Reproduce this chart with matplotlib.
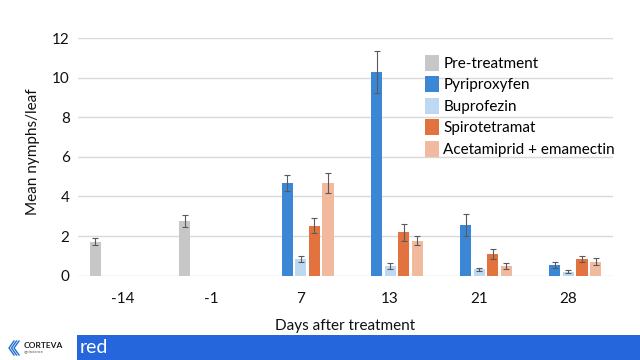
import matplotlib
matplotlib.use("Agg")
import matplotlib.pyplot as plt
from matplotlib.patches import Rectangle
import numpy as np

plt.rcParams['font.family'] = ['Lato', 'DejaVu Sans']

categories = ["-14", "-1", "7", "13", "21", "28"]
series = ["Pre-treatment", "Pyriproxyfen", "Buprofezin", "Spirotetramat", "Acetamiprid + emamectin"]
pre_treatment = [1.72, 2.78, None, None, None, None]
pre_treatment_err = [0.18, 0.30, None, None, None, None]
pyriproxyfen = [None, None, 4.70, 10.30, 2.56, 0.54]
pyriproxyfen_err = [None, None, 0.40, 1.06, 0.55, 0.13]
buprofezin = [None, None, 0.86, 0.47, 0.32, 0.20]
buprofezin_err = [None, None, 0.15, 0.15, 0.08, 0.07]
spirotetramat = [None, None, 2.53, 2.19, 1.10, 0.84]
spirotetramat_err = [None, None, 0.38, 0.42, 0.24, 0.17]
acetamiprid = [None, None, 4.67, 1.77, 0.49, 0.71]
acetamiprid_err = [None, None, 0.50, 0.23, 0.17, 0.17]

values = [pre_treatment, pyriproxyfen, buprofezin, spirotetramat, acetamiprid]
errors = [pre_treatment_err, pyriproxyfen_err, buprofezin_err, spirotetramat_err, acetamiprid_err]
colors = ["#c7c7c7", "#3b87d6", "#bdd8f1", "#e2733f", "#f1b99d"]

fig = plt.figure(figsize=(6.4, 3.6), dpi=100)
ax = fig.add_axes([78/640, 1-275.7/360, (613-78)/640, (275.7-38)/360])

x = np.arange(len(categories))
slot = 0.152
width = 0.125
for i, (vals, errs, c, name) in enumerate(zip(values, errors, colors, series)):
    off = (i - 2) * slot
    xs = [x[j] + off for j in range(len(categories)) if vals[j] is not None]
    ys = [vals[j] for j in range(len(categories)) if vals[j] is not None]
    es = [errs[j] for j in range(len(categories)) if vals[j] is not None]
    ax.bar(xs, ys, width=width, color=c, label=name, zorder=3)
    ax.errorbar(xs, ys, yerr=es, fmt='none', ecolor='#5a5a5a', elinewidth=0.8,
                capsize=2.2, capthick=0.8, zorder=4)

ax.set_xlim(-0.5, 5.5)
ax.set_ylim(0, 12)
ax.set_yticks(range(0, 13, 2))
ax.set_xticks(x)
ax.set_xticklabels(categories)
ax.grid(axis='y', color='#d9d9d9', linewidth=1.0, zorder=0)
for s in ax.spines.values():
    s.set_visible(False)
ax.tick_params(axis='both', length=0, labelsize=11, colors='#111111')
ax.tick_params(axis='x', pad=12)
ax.tick_params(axis='y', pad=6)
ax.set_xlabel("Days after treatment", fontsize=11, color='#111111', labelpad=9)
ax.set_ylabel("Mean nymphs/leaf", fontsize=11, color='#111111')
ax.yaxis.set_label_coords((40-78)/535, (275.7-152)/237.7)

leg = ax.legend(loc='upper left', bbox_to_anchor=((425-78)/535, (275.7-55)/237.7),
                frameon=False, fontsize=11, handlelength=0.9, handleheight=1.2,
                handletextpad=0.3, labelspacing=0.36, borderpad=0, borderaxespad=0)

# bottom banner
fig.patches.append(Rectangle((77/640, 0), 1-77/640, 25/360, transform=fig.transFigure,
                             facecolor='#2566dc', edgecolor='none'))
fig.text(80/640, 12.5/360, "red", color='white', fontsize=14, va='center', ha='left')
# logo
fig.text(24/640, 15/360, "CORTEVA", color='#1a1a1a', fontsize=6, fontweight='bold',
         va='center', ha='left')
fig.text(24/640, 8/360, "agriscience", color='#555555', fontsize=3, va='center', ha='left')
for k in range(3):
    dx = k * 2.5
    pts = [((14 + dx)/640, 19/360), ((9 + dx)/640, 12/360), ((14 + dx)/640, 5/360)]
    fig.lines.append(plt.Line2D([p[0] for p in pts], [p[1] for p in pts],
                                transform=fig.transFigure, color='#1f6fd1', linewidth=1.0))

fig.savefig("out.png", dpi=100)
